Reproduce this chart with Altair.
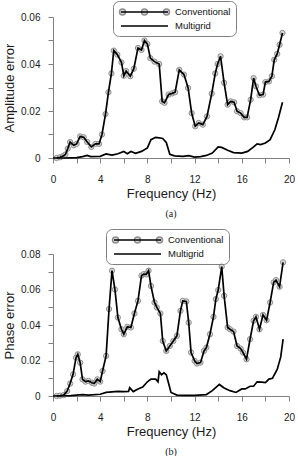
import altair as alt
import pandas as pd

FONT = "Liberation Sans"
AXC = "#808080"
SERIES = ["Conventional", "Multigrid"]

# ---- (a) Amplitude error ----
amp_conv_freq = [0.3, 0.6, 0.85, 1.05, 1.25, 1.45, 1.75, 2.0, 2.3, 2.6, 2.9, 3.25, 3.6, 3.9,
                 4.15, 4.45, 4.7, 4.95, 5.15, 5.45, 5.8, 6.0, 6.2, 6.55, 6.85, 7.2, 7.5, 7.75,
                 8.0, 8.25, 8.6, 9.0, 9.25, 9.45, 9.8, 10.1, 10.35, 10.7, 11.1, 11.45, 11.75,
                 12.05, 12.35, 12.7, 13.05, 13.45, 13.75, 13.95, 14.2, 14.5, 14.8, 15.05, 15.35,
                 15.6, 15.9, 16.2, 16.45, 16.75, 17.0, 17.2, 17.5, 17.8, 18.0, 18.3, 18.55, 18.75,
                 19.0, 19.2, 19.45]
amp_conv_val = [0.0, 0.0003, 0.0008, 0.0015, 0.004, 0.0068, 0.0054, 0.006, 0.0092, 0.0088, 0.0068,
                0.0047, 0.006, 0.006, 0.010, 0.0187, 0.028, 0.036, 0.0457, 0.044, 0.0407, 0.035,
                0.037, 0.0348, 0.038, 0.0468, 0.046, 0.050, 0.0485, 0.0425, 0.041, 0.040, 0.0241,
                0.0235, 0.027, 0.0275, 0.028, 0.0375, 0.0355, 0.0298, 0.0191, 0.0135, 0.0149,
                0.0142, 0.0177, 0.0274, 0.036, 0.040, 0.0433, 0.032, 0.0227, 0.0241, 0.0237,
                0.0199, 0.0191, 0.0173, 0.0173, 0.0248, 0.034, 0.0305, 0.0267, 0.027, 0.0323,
                0.0326, 0.0348, 0.0418, 0.0443, 0.0482, 0.0532]
amp_multi_freq = [0.0, 1.0, 2.0, 2.5, 2.9, 3.2, 4.0, 4.5, 5.0, 5.5, 6.0, 6.3, 6.6, 7.0, 7.5, 8.0,
                  8.3, 8.7, 9.0, 9.3, 9.6, 9.9, 10.3, 11.0, 11.5, 12.0, 12.5, 13.0, 13.5, 14.0,
                  14.3, 14.8, 15.3, 16.0, 16.5, 17.0, 17.3, 17.6, 18.0, 18.4, 18.8, 19.1, 19.45]
amp_multi_val = [0.0, 0.0, 0.0002, 0.0006, 0.0011, 0.0006, 0.0007, 0.0017, 0.0012, 0.0018, 0.0028,
                 0.0018, 0.0028, 0.002, 0.0028, 0.0043, 0.0078, 0.0088, 0.0086, 0.0083, 0.0066,
                 0.0016, 0.0009, 0.0007, 0.001, 0.0004, 0.0006, 0.0011, 0.0021, 0.0047, 0.0045,
                 0.0033, 0.0023, 0.0021, 0.0028, 0.0047, 0.006, 0.0057, 0.0064, 0.0078, 0.012,
                 0.017, 0.0237]

# ---- (b) Phase error ----
ph_conv_freq = [0.3, 0.6, 0.9, 1.2, 1.45, 1.7, 1.95, 2.1, 2.3, 2.5, 2.75, 3.0, 3.3, 3.5, 3.75,
                4.0, 4.2, 4.5, 4.75, 5.0, 5.25, 5.5, 5.8, 6.0, 6.3, 6.6, 6.9, 7.2, 7.5, 7.7, 7.9,
                8.1, 8.3, 8.6, 8.8, 9.1, 9.3, 9.6, 9.9, 10.2, 10.5, 10.8, 11.0, 11.3, 11.5, 11.7,
                12.0, 12.2, 12.5, 12.8, 13.0, 13.3, 13.6, 13.8, 14.0, 14.3, 14.5, 14.8, 15.0,
                15.3, 15.6, 15.9, 16.1, 16.4, 16.7, 17.0, 17.2, 17.5, 17.8, 18.1, 18.4, 18.7,
                18.9, 19.2, 19.5]
ph_conv_val = [0.0, 0.0002, 0.0005, 0.0028, 0.007, 0.0122, 0.0216, 0.0235, 0.0188, 0.0094, 0.0081,
               0.0085, 0.0075, 0.007, 0.0094, 0.0081, 0.0141, 0.0226, 0.049, 0.0706, 0.060,
               0.0442, 0.0376, 0.0348, 0.039, 0.0386, 0.0465, 0.0536, 0.0678, 0.0687, 0.0685,
               0.0706, 0.062, 0.0527, 0.0499, 0.0465, 0.031, 0.0254, 0.0282, 0.031, 0.0339, 0.048,
               0.0536, 0.0533, 0.0414, 0.0245, 0.0198, 0.0183, 0.0188, 0.0254, 0.0273, 0.0348,
               0.0446, 0.0546, 0.0597, 0.0729, 0.0565, 0.0386, 0.0376, 0.0363, 0.0282, 0.0267,
               0.0245, 0.0207, 0.032, 0.0424, 0.0446, 0.0376, 0.0457, 0.0427, 0.0527, 0.064,
               0.0653, 0.0616, 0.0753]
ph_multi_freq = [0.0, 1.5, 2.5, 3.0, 4.0, 4.5, 5.0, 5.5, 6.0, 6.4, 6.5, 6.8, 7.2, 7.6, 8.0, 8.3,
                 8.7, 8.9, 9.0, 9.2, 9.4, 9.6, 9.8, 10.0, 10.5, 11.0, 12.0, 13.0, 13.5, 14.1,
                 14.5, 15.0, 15.5, 16.0, 16.3, 16.7, 17.0, 17.3, 17.7, 18.0, 18.3, 18.6, 19.0,
                 19.3, 19.5]
ph_multi_val = [0.0, 0.0002, 0.0008, 0.0005, 0.001, 0.002, 0.0023, 0.0026, 0.0025, 0.0026, 0.0047,
                0.0025, 0.004, 0.005, 0.008, 0.0095, 0.0095, 0.008, 0.0137, 0.012, 0.013, 0.012,
                0.007, 0.002, 0.0005, 0.0004, 0.0004, 0.0008, 0.003, 0.0065, 0.0045, 0.003,
                0.002, 0.004, 0.004, 0.0055, 0.0055, 0.008, 0.0078, 0.0075, 0.0095, 0.010, 0.015,
                0.022, 0.032]

# legend symbol paths: symbol box is 10px (size 100, 5px per unit), path extends to the right
SYM = 100
LINE = "M-0.6,0L8.8,0"
R = 0.6


def circ(c):
    return f"M{c - R:.2f},0a{R},{R} 0 1,0 {2 * R:.2f},0a{R},{R} 0 1,0 {-2 * R:.2f},0Z"


CIRCLES = circ(-0.3) + circ(4.1) + circ(8.5)
EMPTY = "M0,0Z"


def legend(lx, ly, box=True):
    kw = dict(orient="none", legendX=lx, legendY=ly, title=None, padding=5,
              labelFont=FONT, labelFontSize=9.5, labelOffset=45, rowPadding=3,
              symbolSize=SYM, labelColor="#111")
    if box:
        kw.update(strokeColor="#7f7f7f", cornerRadius=6)
    else:
        kw.update(labelExpr="''")
    return alt.Legend(**kw)


def panel(cf, cv, mf, mv, ymax, ytitle, caption, lx, ly, h):
    conv = pd.DataFrame({"f": cf, "v": cv})
    multi = pd.DataFrame({"f": mf, "v": mv})
    xs = alt.X("f:Q", scale=alt.Scale(domain=[0, 20], nice=False, zero=False),
               axis=alt.Axis(values=list(range(0, 21, 2)),
                             labelExpr="datum.value % 4 == 0 ? datum.label : ''",
                             title="Frequency (Hz)", labelFlush=False, labelPadding=11,
                             titlePadding=3))
    n = int(round(ymax / 0.01))
    ys = alt.Y("v:Q", scale=alt.Scale(domain=[0, ymax], nice=False),
               axis=alt.Axis(values=[round(i * 0.01, 2) for i in range(n + 1)],
                             labelExpr="datum.value == 0 ? '0' : (round(datum.value*100) % 2 == 0 ? format(datum.value, '.2f') : '')",
                             title=ytitle, labelPadding=8, titlePadding=4))
    pts = alt.Chart(conv).mark_point(shape="circle", filled=True, size=28, fill="#d6d6d6",
                                     stroke="#8f8f8f", strokeWidth=1, opacity=1).encode(x=xs, y=ys)
    cl = alt.Chart(conv).mark_line(color="black", strokeWidth=1.7).encode(x=xs, y=ys)
    ml = alt.Chart(multi).mark_line(color="black", strokeWidth=1.7).encode(x=xs, y=ys)
    leg_df = pd.DataFrame({"s": SERIES})
    legB = alt.Chart(leg_df).transform_filter("false").mark_point(
        filled=True, fill="#d6d6d6", stroke="#8f8f8f", strokeWidth=1, size=SYM, opacity=1
    ).encode(shape=alt.Shape("s:N", scale=alt.Scale(domain=SERIES, range=[CIRCLES, EMPTY]),
                             legend=legend(lx, ly, box=False)))
    legA = alt.Chart(leg_df).transform_filter("false").mark_point(
        filled=False, color="black", strokeWidth=1.7, size=SYM, opacity=1
    ).encode(shape=alt.Shape("s:N", scale=alt.Scale(domain=SERIES, range=[LINE, LINE]),
                             legend=legend(lx, ly, box=True)))
    return alt.layer(pts, cl, ml, legB, legA).resolve_scale(shape="independent").properties(
        width=236, height=h,
        title=alt.TitleParams(caption, orient="bottom", font="Liberation Serif", fontSize=10,
                              fontWeight="normal", color="#222", offset=9))


top = panel(amp_conv_freq, amp_conv_val, amp_multi_freq, amp_multi_val, 0.06,
            "Amplitude error", "(a)", 60, -16, 141)
bottom = panel(ph_conv_freq, ph_conv_val, ph_multi_freq, ph_multi_val, 0.08,
               "Phase error", "(b)", 53, -25, 142)

chart = alt.vconcat(top, bottom, spacing=9).properties(
    padding={"left": 3, "top": 0, "right": 0, "bottom": 0}
).configure_view(stroke=None).configure_axis(
    grid=False, domainColor=AXC, tickColor=AXC, tickSize=5, domainWidth=1, tickWidth=1,
    labelFont=FONT, labelFontSize=10, labelColor="#1a1a1a",
    titleFont=FONT, titleFontSize=13, titleFontWeight="normal", titleColor="#1a1a1a"
)

chart.save("out.html", embed_options={"renderer": "svg", "actions": False})
